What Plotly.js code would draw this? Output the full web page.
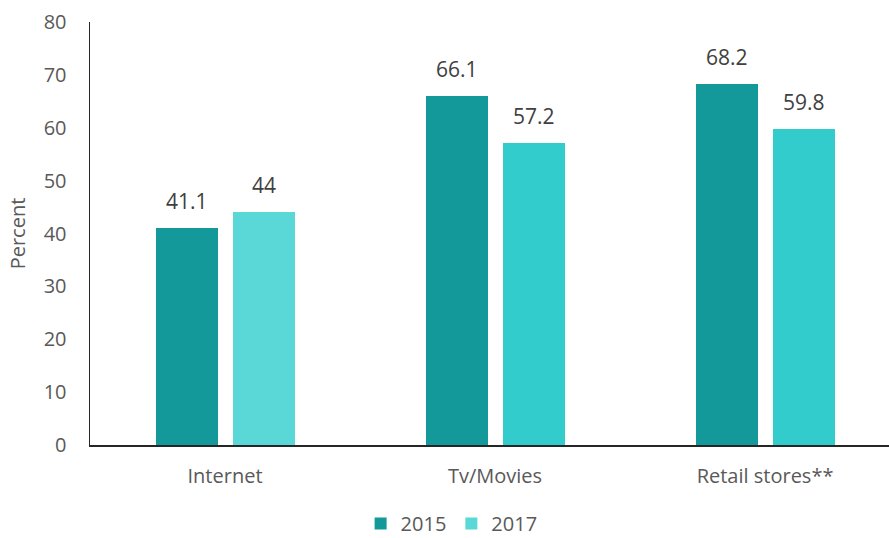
<!DOCTYPE html>
<html>
<head>
<meta charset="utf-8">
<script src="https://cdn.plot.ly/plotly-3.0.1.min.js"></script>
<style>html,body{margin:0;padding:0;background:#fff;}#chart{width:889px;height:538px;}</style>
</head>
<body>
<div id="chart"></div>
<script>
var categories = ["Internet", "Tv/Movies", "Retail stores**"];
var series2015 = [41.1, 66.1, 68.2];
var series2017 = [44, 57.2, 59.8];
var labels2015 = ["41.1", "66.1", "68.2"];
var labels2017 = ["44", "57.2", "59.8"];
var seriesNames = ["2015", "2017"];

var color2015 = "#139999";
var colors2017 = ["#5AD7D7", "#33CCCC", "#33CCCC"];

var FONT = "'Open Sans', sans-serif";
var barW = 0.23;
var off15 = -0.256;
var off17 = 0.029;

var traces = [
  {type: "bar", name: seriesNames[0], x: categories, y: series2015,
   marker: {color: color2015}, width: barW, offset: off15, hoverinfo: "none"},
  {type: "bar", name: seriesNames[1], x: categories, y: series2017,
   marker: {color: colors2017}, width: barW, offset: off17, hoverinfo: "none"}
];

var annotations = [];
categories.forEach(function(c, i) {
  annotations.push({x: i + off15 + barW / 2, y: series2015[i], xref: "x", yref: "y",
    text: labels2015[i], showarrow: false, yanchor: "middle", yshift: 27,
    font: {size: 21, color: "#404040", family: FONT}});
  annotations.push({x: i + off17 + barW / 2, y: series2017[i], xref: "x", yref: "y",
    text: labels2017[i], showarrow: false, yanchor: "middle", yshift: 27,
    font: {size: 21, color: "#404040", family: FONT}});
});

var layout = {
  width: 889, height: 538,
  margin: {l: 90, r: 0, t: 22, b: 93, autoexpand: false},
  paper_bgcolor: "#ffffff", plot_bgcolor: "#ffffff",
  font: {family: FONT, size: 20, color: "#595959"},
  showlegend: true,
  legend: {orientation: "h", x: 0.508, xanchor: "center", xref: "container",
    y: 0.027, yanchor: "middle", yref: "container",
    font: {size: 20, color: "#595959"}, itemwidth: 30, tracegroupgap: 0},
  xaxis: {type: "category", range: [-0.5, 2.459], showgrid: false, zeroline: false,
    showline: true, linecolor: "#262626", linewidth: 1.5, ticks: "", ticklen: 0,
    tickfont: {size: 20, color: "#595959"}, ticklabelstandoff: 12, automargin: false},
  yaxis: {range: [0, 80], dtick: 10, showgrid: false, zeroline: false,
    showline: true, linecolor: "#262626", linewidth: 1.5, ticks: "",
    tickfont: {size: 20, color: "#595959"}, ticklabelstandoff: 18, automargin: false,
    title: {text: "Percent", font: {size: 20, color: "#595959"}, standoff: 12}},
  annotations: annotations,
  bargap: 0
};

Plotly.newPlot("chart", traces, layout, {displayModeBar: false, staticPlot: true});
</script>
</body>
</html>
